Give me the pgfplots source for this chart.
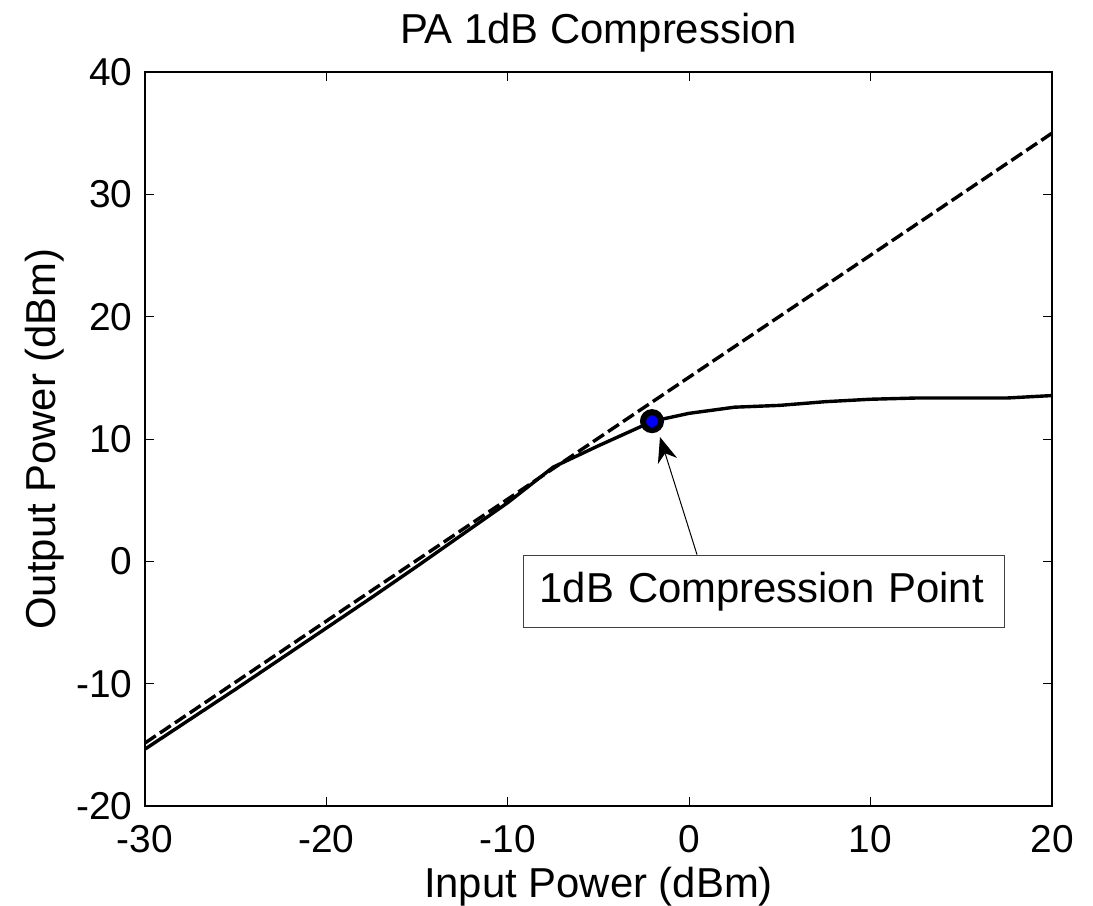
\documentclass[border=0pt]{standalone}
\usepackage{fontspec}
\setmainfont{Liberation Sans}
\usepackage{pgfplots}
\pgfplotsset{compat=1.18}
\usetikzlibrary{arrows.meta}
\begin{document}
\begin{tikzpicture}
\useasboundingbox (-72.5bp,-50bp) rectangle (474bp,403bp);
\begin{axis}[
  scale only axis, width=453.5bp, height=367bp,
  xmin=-30, xmax=20, ymin=-20, ymax=40,
  xtick={-30,-20,...,20}, ytick={-20,-10,...,40},
  tick align=inside, major tick length=4.5bp,
  axis line style={line width=0.6bp},
  every tick/.style={black, line width=0.5bp},
  /pgf/number format/assume math mode=true,
  tick label style={font=\fontsize{19.5}{22}\selectfont, inner sep=0pt},
  xticklabel style={anchor=north, yshift=-9.5bp},
  yticklabel style={anchor=east, xshift=-6bp},
  clip=false,
]
\addplot[black, line width=1.7bp, dash pattern=on 6.5bp off 2.5bp] coordinates {(-30,-14.85) (20,35)};
\addplot[black, line width=1.7bp] coordinates {
(-30,-15.35) (-27.5,-12.9) (-25,-10.45) (-22.5,-7.95) (-20,-5.45) (-17.5,-2.95)
(-15,-0.4) (-12.5,2.2) (-10,4.8) (-7.5,7.7) (-5,9.45) (-2,11.46) (0,12.1)
(2.5,12.6) (5,12.75) (7.5,13.05) (10,13.25) (12.5,13.35) (15,13.35) (17.5,13.35) (20,13.55)};
\addplot[only marks, mark=*, mark size=4.5bp, mark options={draw=black, fill=blue, line width=3bp}] coordinates {(-2.05,11.46)};
\draw[line width=0.5bp, -{Stealth[length=12.5bp, width=10bp, inset=4bp]}] (axis cs:0.43,0.55) -- (axis cs:-1.61,10.16);
\node[draw=black!75, line width=0.6bp, fill=white, anchor=west, text width=224.5bp, inner xsep=8bp, inner ysep=0pt, minimum height=36bp, align=left, font=\fontsize{21}{24}\selectfont] at (axis cs:-9.16,-2.44) {1dB Compression Point};
\node[yshift=14.5bp, anchor=base, font=\fontsize{21}{24}\selectfont] at (rel axis cs:0.5,1) {PA 1dB Compression};
\node[yshift=-45.5bp, anchor=base, font=\fontsize{21}{24}\selectfont] at (rel axis cs:0.5,0) {Input Power (dBm)};
\node[xshift=-44.5bp, rotate=90, anchor=base, font=\fontsize{21}{24}\selectfont] at (rel axis cs:0,0.5) {Output Power (dBm)};
\end{axis}
\end{tikzpicture}
\end{document}
